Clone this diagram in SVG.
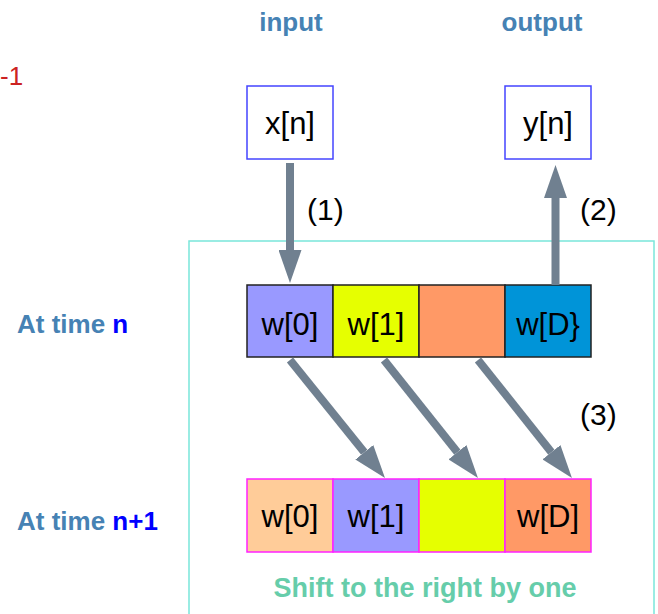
<svg xmlns="http://www.w3.org/2000/svg" width="658" height="614" viewBox="0 0 658 614">
<style>
.lbl{font-family:"Liberation Sans",Arial,sans-serif;font-weight:bold;font-size:26px;fill:#4682b4}
.hl{fill:#0000ff}
.t{font-family:"Liberation Sans",Arial,sans-serif;font-size:31px;fill:#000;text-anchor:middle}
.num{font-family:"Liberation Sans",Arial,sans-serif;font-size:30px;fill:#000}
.box{fill:#fff;stroke:#4444ff;stroke-width:1.5}
.top{stroke:#222;stroke-width:1.5}
.bot{stroke:#ff22ff;stroke-width:1.5}
.arr{stroke:#708090;stroke-width:8;fill:none;marker-end:url(#head)}
</style>
<defs>
<marker id="head" viewBox="0 0 33 23" markerWidth="33" markerHeight="23" markerUnits="userSpaceOnUse" refX="0" refY="11.5" orient="auto">
<path d="M0,0 L33,11.5 L0,23 Z" fill="#708090"/>
</marker>
</defs>
<rect x="189" y="241" width="465" height="390" fill="none" stroke="#7ae6da" stroke-width="1.5"/>
<text x="0" y="85" font-family="Liberation Sans,Arial,sans-serif" font-size="26" fill="#cc2222">-1</text>
<text class="lbl" x="291" y="31" text-anchor="middle">input</text>
<text class="lbl" x="542" y="31" text-anchor="middle">output</text>
<text class="lbl" x="17" y="333">At time <tspan class="hl">n</tspan></text>
<text class="lbl" x="17" y="530">At time <tspan class="hl">n+1</tspan></text>
<text class="lbl" x="425" y="597" text-anchor="middle" style="fill:#66cdaa;font-size:27px">Shift to the right by one</text>
<g id="xn"><rect class="box" x="247" y="86" width="86" height="73"/><text class="t" x="290" y="134">x[n]</text></g>
<g id="yn"><rect class="box" x="505" y="86" width="86" height="73"/><text class="t" x="548" y="134">y[n]</text></g>
<g id="top-row">
<g id="t0"><rect class="top" x="247" y="285" width="86" height="72" fill="#9999ff"/><text class="t" x="290" y="335">w[0]</text></g>
<g id="t1"><rect class="top" x="333" y="285" width="86" height="72" fill="#e6ff00"/><text class="t" x="376" y="335">w[1]</text></g>
<g id="t2"><rect class="top" x="419" y="285" width="86" height="72" fill="#ff9966"/></g>
<g id="t3"><rect class="top" x="505" y="285" width="86" height="72" fill="#0094d8"/><text class="t" x="548" y="335">w[D}</text></g>
</g>
<g id="bottom-row">
<g id="b0"><rect class="bot" x="247" y="479" width="86" height="73" fill="#ffcc99"/><text class="t" x="290" y="527">w[0]</text></g>
<g id="b1"><rect class="bot" x="333" y="479" width="86" height="73" fill="#9999ff"/><text class="t" x="376" y="527">w[1]</text></g>
<g id="b2"><rect class="bot" x="419" y="479" width="86" height="73" fill="#e6ff00"/></g>
<g id="b3"><rect class="bot" x="505" y="479" width="86" height="73" fill="#ff9966"/><text class="t" x="548" y="527">w[D]</text></g>
</g>
<g id="connectors">
<line class="arr" x1="290" y1="163" x2="290" y2="250"/>
<line class="arr" x1="555.5" y1="285" x2="555.5" y2="198"/>
<line class="arr" x1="290" y1="360" x2="364.3" y2="452.3"/>
<line class="arr" x1="384" y1="360" x2="457.4" y2="452.2"/>
<line class="arr" x1="478" y1="360" x2="551.4" y2="452.2"/>
</g>
<text class="num" x="307" y="220">(1)</text>
<text class="num" x="580" y="220">(2)</text>
<text class="num" x="580" y="425">(3)</text>
</svg>
